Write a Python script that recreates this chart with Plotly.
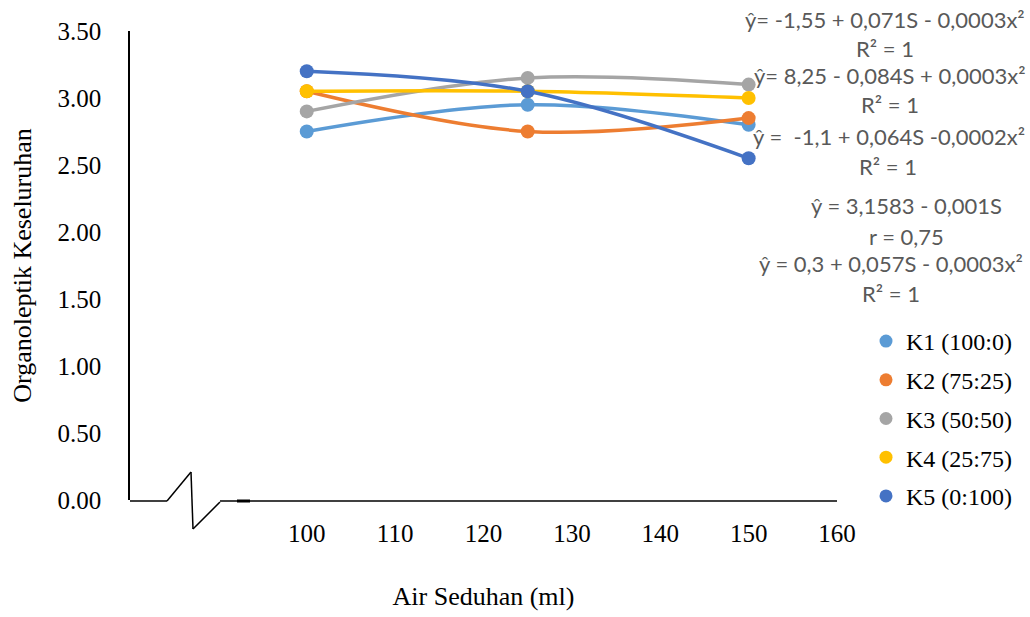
import plotly.graph_objects as go

# ---------------- data ----------------
air_seduhan = [100, 125, 150]
series_names = ["K1 (100:0)", "K2 (75:25)", "K3 (50:50)", "K4 (25:75)", "K5 (0:100)"]
k1 = [2.75, 2.95, 2.80]
k2 = [3.05, 2.75, 2.85]
k3 = [2.90, 3.15, 3.10]
k4 = [3.05, 3.05, 3.00]
k5 = [3.20, 3.05, 2.55]
series_values = [k1, k2, k3, k4, k5]
colors = ["#5B9BD5", "#ED7D31", "#A5A5A5", "#FFC000", "#4472C4"]

y_ticks = [0, 0.5, 1.0, 1.5, 2.0, 2.5, 3.0, 3.5]
x_ticks = [100, 110, 120, 130, 140, 150, 160]

equations = [
    "ŷ= -1,55 + 0,071S - 0,0003x²",
    "R² = 1",
    "ŷ= 8,25 - 0,084S + 0,0003x²",
    "R² = 1",
    "ŷ =  -1,1 + 0,064S -0,0002x²",
    "R² = 1",
    "ŷ = 3,1583 - 0,001S",
    "r = 0,75",
    "ŷ = 0,3 + 0,057S - 0,0003x²",
    "R² = 1",
]

# ---------------- layout geometry (pixels) ----------------
W, H = 1030, 617
L, R, T, B = 130, 837, 31, 500


def px(xp):
    return (xp - L) / (R - L)


def py(yp):
    return (B - yp) / (B - T)


SERIF = "Times New Roman, Liberation Serif, serif"
SANS = "Lato, Carlito, Calibri, sans-serif"

fig = go.Figure()

for name, vals, col in zip(series_names, series_values, colors):
    fig.add_trace(go.Scatter(
        x=air_seduhan, y=vals, name=name, mode="lines+markers",
        line=dict(color=col, width=3.5, shape="spline", smoothing=1),
        marker=dict(color=col, size=14),
        showlegend=False, legendgroup=name,
    ))

# legend entries (marker only, like the original)
for name, col in zip(series_names, colors):
    fig.add_trace(go.Scatter(
        x=[None], y=[None], name=name, mode="markers",
        marker=dict(color=col, size=13),
        showlegend=True, legendgroup=name,
    ))

# equation annotations (pixel centres)
eq_pos = [(885, 19), (885, 49), (890, 76), (890, 105), (889, 136),
          (888, 166), (906, 206), (906, 236), (891, 263), (891, 293)]
for txt, (ex, ey) in zip(equations, eq_pos):
    fig.add_annotation(
        x=px(ex), y=py(ey), xref="paper", yref="paper", text=txt,
        showarrow=False, xanchor="center", yanchor="middle",
        font=dict(family=SANS, size=22, color="#595959"),
    )

# x axis line with break symbol
line_style = dict(color="black", width=1.5)
segments = [
    ((130, 501), (167, 501)),
    ((167, 501), (191, 472)),
    ((191, 472), (193, 529)),
    ((193, 529), (220, 502)),
    ((220, 501), (837, 501)),
]
for (x0, y0), (x1, y1) in segments:
    fig.add_shape(type="line", xref="paper", yref="paper",
                  x0=px(x0), y0=py(y0), x1=px(x1), y1=py(y1),
                  line=line_style, layer="above")
fig.add_shape(type="line", xref="paper", yref="paper",
              x0=px(237), y0=py(501), x1=px(250), y1=py(501),
              line=dict(color="black", width=3), layer="above")

fig.update_layout(
    width=W, height=H,
    margin=dict(l=L, r=W - R, t=T, b=H - B, autoexpand=False),
    paper_bgcolor="white", plot_bgcolor="white",
    font=dict(family=SERIF, size=25, color="black"),
    showlegend=True,
    legend=dict(
        x=px(866), y=py(319), xanchor="left", yanchor="top",
        font=dict(family=SERIF, size=24, color="black"),
        traceorder="grouped", tracegroupgap=4.5,
        bgcolor="rgba(0,0,0,0)", itemwidth=30,
    ),
    xaxis=dict(
        range=[80, 160], tickvals=x_ticks, ticktext=[str(v) for v in x_ticks],
        showgrid=False, zeroline=False, showline=False, ticks="",
        tickfont=dict(family=SERIF, size=25), ticklabelstandoff=16,
        title=dict(text="Air Seduhan (ml)", font=dict(family=SERIF, size=26),
                   standoff=40),
        automargin=False,
    ),
    yaxis=dict(
        range=[0, 3.5], tickvals=y_ticks, tickformat=".2f",
        showgrid=False, zeroline=False, showline=True,
        linecolor="black", linewidth=1.5, ticks="",
        tickfont=dict(family=SERIF, size=25), ticklabelstandoff=22,
        title=dict(text="Organoleptik Keseluruhan", font=dict(family=SERIF, size=26),
                   standoff=18),
        automargin=False,
    ),
)

fig.write_html("out.html")
